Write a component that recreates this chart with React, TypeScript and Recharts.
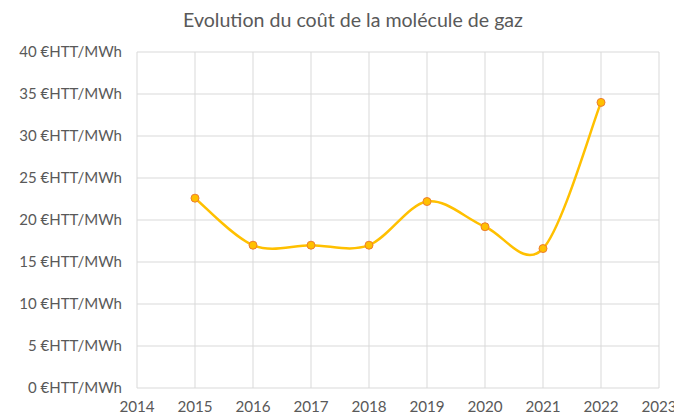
import React from 'react';
import { LineChart, Line, XAxis, YAxis, CartesianGrid } from 'recharts';

const years = [2015, 2016, 2017, 2018, 2019, 2020, 2021, 2022];
const costs = [22.6, 17.0, 17.0, 17.0, 22.2, 19.2, 16.6, 34.0];
const xTicks = [2014, 2015, 2016, 2017, 2018, 2019, 2020, 2021, 2022, 2023];
const yTicks = [0, 5, 10, 15, 20, 25, 30, 35, 40];
const title = 'Evolution du coût de la molécule de gaz';

const data = years.map((y, i) => ({ year: y, cost: costs[i] }));

// Excel-like smoothing (Catmull-Rom / cardinal tension 0)
const excelCurve = (context: any) => {
  let pts: number[][] = [];
  return {
    areaStart() {},
    areaEnd() {},
    lineStart() {
      pts = [];
    },
    point(x: number, y: number) {
      pts.push([+x, +y]);
    },
    lineEnd() {
      if (!pts.length) return;
      context.moveTo(pts[0][0], pts[0][1]);
      for (let i = 0; i < pts.length - 1; i++) {
        const p0 = pts[i - 1] || pts[i];
        const p1 = pts[i];
        const p2 = pts[i + 1];
        const p3 = pts[i + 2] || pts[i + 1];
        const c1x = p1[0] + (p2[0] - p0[0]) / 6;
        const c1y = p1[1] + (p2[1] - p0[1]) / 6;
        const c2x = p2[0] - (p3[0] - p1[0]) / 6;
        const c2y = p2[1] - (p3[1] - p1[1]) / 6;
        context.bezierCurveTo(c1x, c1y, c2x, c2y, p2[0], p2[1]);
      }
    },
  };
};

const FONT = 'Lato, "Open Sans", sans-serif';
const GREY = '#595959';

export default function App() {
  return (
    <div style={{ position: 'absolute', left: 0, top: 0, width: 674, height: 415, background: '#fff' }}>
      <LineChart
        width={674}
        height={415}
        data={data}
        margin={{ top: 52, right: 15, bottom: 0, left: 0 }}
      >
        <text x={353} y={27} textAnchor="middle" fill={GREY} fontFamily={FONT} fontSize={19.6}>
          {title}
        </text>
        <CartesianGrid stroke="#d9d9d9" strokeWidth={1} />
        <XAxis
          dataKey="year"
          type="number"
          domain={[2014, 2023]}
          ticks={xTicks}
          height={27}
          axisLine={false}
          tickLine={false}
          tickSize={0}
          tickMargin={13}
          interval={0}
          tick={{ fill: GREY, fontFamily: FONT, fontSize: 15.2 }}
        />
        <YAxis
          type="number"
          domain={[0, 40]}
          ticks={yTicks}
          width={137}
          axisLine={false}
          tickLine={false}
          tickSize={0}
          tickMargin={15}
          interval={0}
          tickFormatter={(v: number) => `${v} €HTT/MWh`}
          tick={{ fill: GREY, fontFamily: FONT, fontSize: 15 }}
        />
        <Line
          dataKey="cost"
          type={excelCurve as any}
          stroke="#FFC000"
          strokeWidth={2.5}
          dot={{ r: 4, fill: '#FFC000', stroke: '#ED7D31', strokeWidth: 1, fillOpacity: 1 }}
          activeDot={false}
          isAnimationActive={false}
        />
      </LineChart>
    </div>
  );
}
